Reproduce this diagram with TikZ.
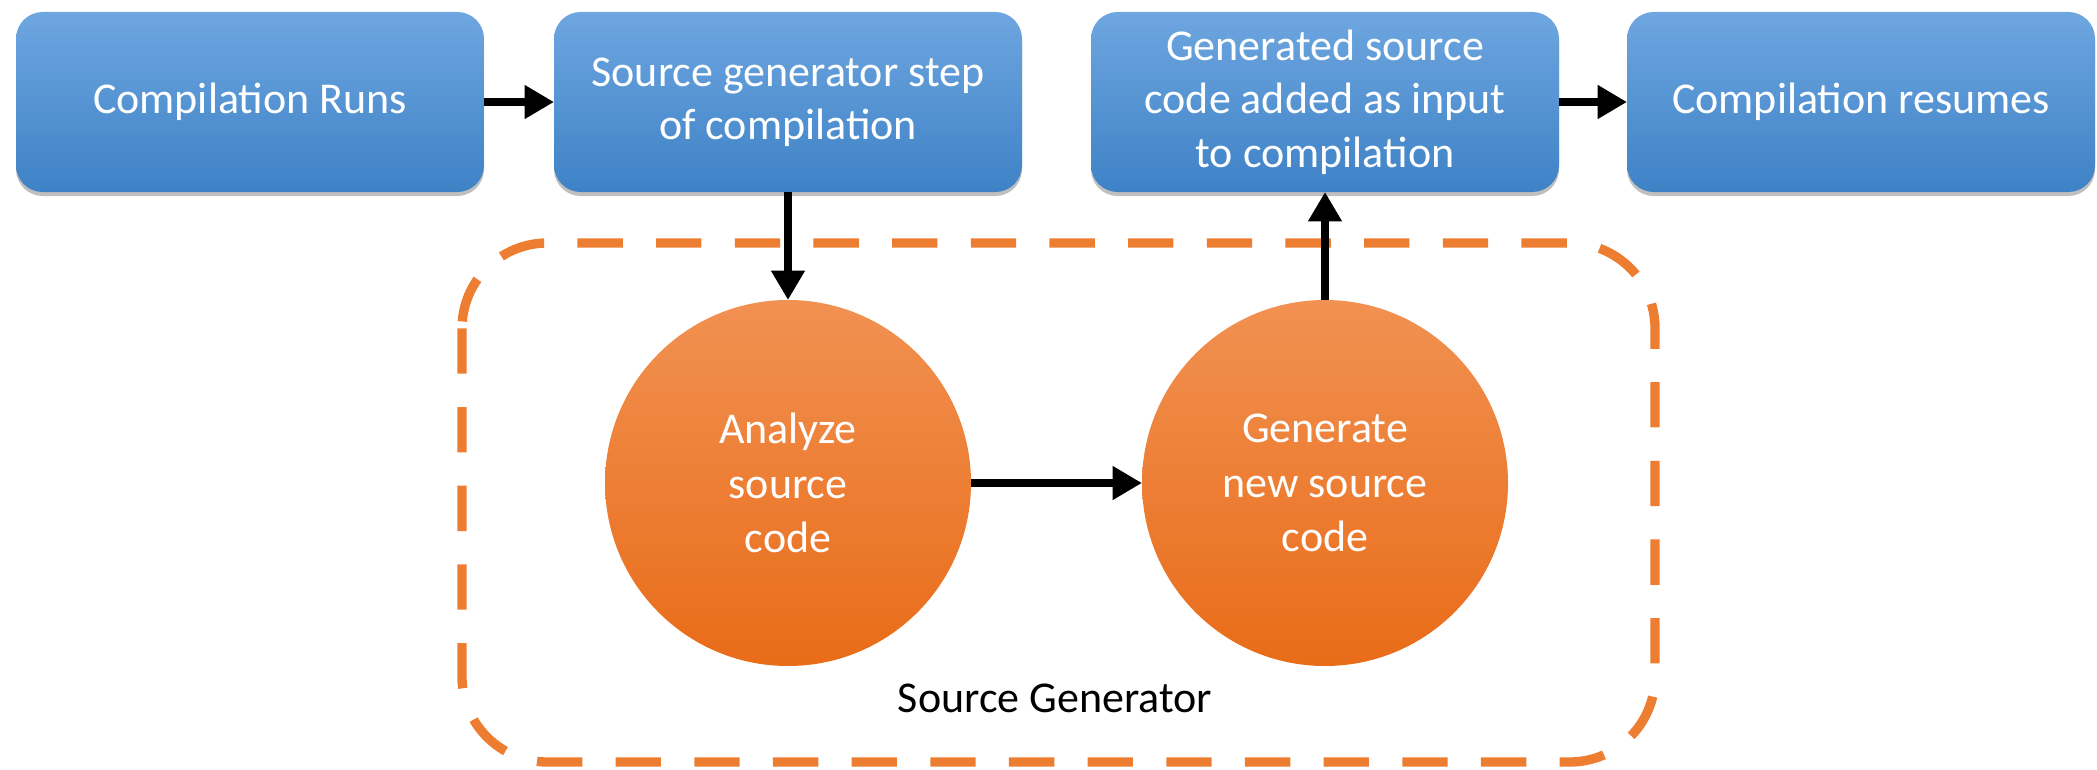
\documentclass[tikz,border=0pt]{standalone}
\usepackage{fontspec}
\setmainfont{Carlito}
\usetikzlibrary{arrows.meta,shadows}

\definecolor{stepTop}{RGB}{110,166,224}
\definecolor{stepBot}{RGB}{62,130,198}
\definecolor{genTop}{RGB}{241,145,82}
\definecolor{genBot}{RGB}{233,108,24}
\definecolor{sgOrange}{RGB}{237,125,49}

\tikzset{
  stepbox/.style={rectangle, rounded corners=20pt, minimum width=351pt, minimum height=135pt,
    inner sep=0pt, outer sep=0pt, top color=stepTop, bottom color=stepBot, text=white,
    align=center, font=\fontsize{33}{40}\selectfont,
    drop shadow={shadow xshift=0pt, shadow yshift=-3pt, opacity=0.25, fill=black}},
  srcnode/.style={circle, minimum size=274.5pt, inner sep=0pt, outer sep=0pt,
    top color=genTop, bottom color=genBot, text=white, align=center,
    font=\fontsize{33}{41}\selectfont},
  sgframe/.style={draw=sgOrange, line width=7pt, rounded corners=64pt, dash pattern=on 34pt off 25pt},
  flow/.style={line width=6pt, -{Triangle[length=22pt,width=24pt]}},
}

\begin{document}
\begin{tikzpicture}[x=0.75pt,y=0.75pt,yscale=-1,xscale=1]
\useasboundingbox (0,0) rectangle (2097,770);
% top row
\node[stepbox] (runs) at (250,102) {Compilation Runs};
\node[stepbox] (genstep) at (788,102) {Source generator step\\of compilation};
\node[stepbox] (added) at (1325,102) {Generated source\\code added as input\\to compilation};
\node[stepbox] (resumes) at (1861,102) {Compilation resumes};
% source generator
\draw[sgframe] (462,243) rectangle (1655,762);
\node[srcnode] (analyze) at (788,483) {Analyze\\source\\code};
\node[srcnode] (generate) at (1325,483) {Generate\\new source\\code};
\node[font=\fontsize{33}{40}\selectfont, text=black] (sglabel) at (1055,698) {Source Generator};
% arrows
\draw[flow] (runs) -- (genstep);
\draw[flow] (genstep) -- (analyze);
\draw[flow] (analyze) -- (generate);
\draw[flow] (generate) -- (added);
\draw[flow] (added) -- (resumes);
\end{tikzpicture}
\end{document}
